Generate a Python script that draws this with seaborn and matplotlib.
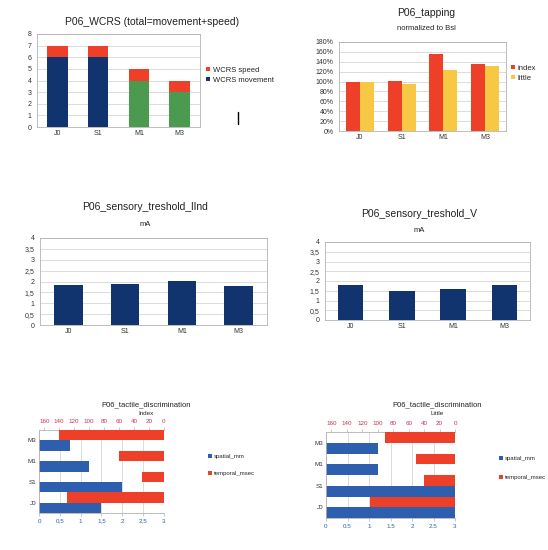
'''
Six small session charts for patient P06 (WCRS, tapping, sensory thresholds,
tactile discrimination), laid out like the original spreadsheet export.
'''
import matplotlib
matplotlib.use('Agg')
import matplotlib.pyplot as plt
from matplotlib.lines import Line2D
from matplotlib.ticker import FuncFormatter, MultipleLocator
import pandas as pd
import seaborn as sns

sessions = ['J0', 'S1', 'M1', 'M3']

wcrs_movement = [6, 6, 4, 3]
wcrs_speed = [1, 1, 1, 1]

tapping_index = [1.00, 1.02, 1.55, 1.36]
tapping_little = [1.00, 0.96, 1.23, 1.31]

threshold_lind = [1.85, 1.88, 2.04, 1.80]
threshold_v = [1.80, 1.50, 1.60, 1.80]

# tactile discrimination, same session order as above
tactile_order = ['M3', 'M1', 'S1', 'J0']
index_spatial_mm = [1.5, 2.0, 1.2, 0.75]
index_temporal_msec = [130, 30, 60, 140]
little_spatial_mm = [3.0, 3.0, 1.2, 1.2]
little_temporal_msec = [110, 40, 50, 90]

NAVY = '#12346e'
GREEN = '#4a9a4f'
RED = '#ee4028'
YELLOW = '#f7c844'
BLUE = '#2e5fae'
PINK = '#cc3355'
EDGE = '#b3b3b3'
GRID = '#d6d6d6'

W, H = 548, 550

sns.set_style('white')
plt.rcParams['font.family'] = ['Liberation Sans', 'DejaVu Sans']

fig = plt.figure(figsize=(W / 100, H / 100), dpi=100)


def px_axes(x0, y0, x1, y1):
    return fig.add_axes([x0 / W, 1 - y1 / H, (x1 - x0) / W, (y1 - y0) / H])


def ftext(x, y, s, size, color='#222222'):
    fig.text(x / W, 1 - y / H, s, ha='center', va='center', fontsize=size,
             color=color)


def comma(v, pos=None):
    return ('%g' % v).replace('.', ',')


def plain(v, pos=None):
    return '%g' % v


def style_box(ax, size=5):
    for s in ax.spines.values():
        s.set_color(EDGE)
        s.set_linewidth(0.6)
    ax.yaxis.grid(True, color=GRID, linewidth=0.6)
    ax.set_axisbelow(True)
    ax.tick_params(labelsize=size, length=2, width=0.5, color=EDGE, pad=2,
                   labelcolor='#333333')
    ax.tick_params(axis='x', which='major', length=0)
    ax.set_xticks([-0.5, 0.5, 1.5, 2.5, 3.5], minor=True)
    ax.tick_params(axis='x', which='minor', length=2, width=0.5, color=EDGE)
    ax.set_xlabel('')
    ax.set_ylabel('')


def square_legend(labels, colors, x, y, size, spacing):
    handles = [Line2D([], [], marker='s', linestyle='none', markersize=3,
                      markerfacecolor=c, markeredgewidth=0) for c in colors]
    fig.legend(handles, labels, loc='center left',
               bbox_to_anchor=(x / W, 1 - y / H), frameon=False,
               fontsize=size, handlelength=0.6, handletextpad=0.3,
               labelspacing=spacing, borderpad=0, borderaxespad=0)


# --- WCRS stacked bars ---
ax1 = px_axes(37, 34, 200, 127)
wcrs = pd.DataFrame({'session': sessions, 'movement': wcrs_movement,
                     'speed': wcrs_speed})
wcrs['total'] = wcrs['movement'] + wcrs['speed']
sns.barplot(data=wcrs, x='session', y='total', color=RED, saturation=1,
            width=0.5, linewidth=0, ax=ax1)
sns.barplot(data=wcrs, x='session', y='movement', hue='session',
            palette=[NAVY, NAVY, GREEN, GREEN], saturation=1, width=0.5,
            linewidth=0, legend=False, ax=ax1)
ax1.set_ylim(0, 8)
ax1.yaxis.set_major_locator(MultipleLocator(1))
style_box(ax1)
ftext(152, 22, 'P06_WCRS (total=movement+speed)', 7.5)
square_legend(['WCRS speed', 'WCRS movement'], [RED, NAVY], 206, 75, 5.5, 0.35)
fig.add_artist(Line2D([238 / W, 238 / W], [1 - 112 / H, 1 - 124 / H],
                      color='black', linewidth=1))

# --- tapping ---
ax2 = px_axes(339, 42, 506, 131)
tap = pd.DataFrame({'session': sessions * 2,
                    'finger': ['index'] * 4 + ['little'] * 4,
                    'value': tapping_index + tapping_little})
sns.barplot(data=tap, x='session', y='value', hue='finger',
            palette=[RED, YELLOW], saturation=1, width=0.67, linewidth=0,
            legend=False, ax=ax2)
ax2.set_ylim(0, 1.8)
ax2.yaxis.set_major_locator(MultipleLocator(0.2))
ax2.yaxis.set_major_formatter(FuncFormatter(lambda v, p: '%d%%' % round(v * 100)))
style_box(ax2)
ftext(426, 13, 'P06_tapping', 7.5)
ftext(426, 29, 'normalized to Bsl', 5.5)
square_legend(['index', 'little'], [RED, YELLOW], 511, 73, 5.5, 0.35)

# --- sensory thresholds ---
for rect, values, title, tx, ty in [
        ((40, 238, 267, 325), threshold_lind, 'P06_sensory_treshold_lInd',
         145, 207),
        ((325, 242, 530, 320), threshold_v, 'P06_sensory_treshold_V',
         419, 214)]:
    ax = px_axes(*rect)
    sns.barplot(x=sessions, y=values, color=NAVY, saturation=1, width=0.5,
                linewidth=0, ax=ax)
    ax.set_ylim(0, 4)
    ax.yaxis.set_major_locator(MultipleLocator(0.5))
    ax.yaxis.set_major_formatter(FuncFormatter(comma))
    style_box(ax)
    ftext(tx, ty, title, 7.5)
    ftext(tx, ty + 17, 'mA', 5.5)


# --- tactile discrimination ---
def tactile(rect, spatial, temporal, subtitle, tx, decimal_comma, leg):
    ax = px_axes(*rect)
    df_s = pd.DataFrame({'session': sessions, 'measure': 'spatial_mm',
                         'value': spatial})
    df_t = pd.DataFrame({'session': sessions, 'measure': 'temporal_msec',
                         'value': temporal})
    hue_order = ['temporal_msec', 'spatial_mm']
    sns.barplot(data=df_s, x='value', y='session', hue='measure',
                order=tactile_order, hue_order=hue_order,
                palette=[RED, BLUE], saturation=1, width=1.0, dodge=True,
                linewidth=0, legend=False, ax=ax)
    ax.set_xlim(0, 3)
    ax.xaxis.set_major_locator(MultipleLocator(0.5))
    ax.xaxis.set_major_formatter(FuncFormatter(comma if decimal_comma else plain))
    ax.xaxis.grid(True, color=GRID, linewidth=0.6)
    ax.set_axisbelow(True)
    ax.tick_params(labelsize=4.5, length=2, width=0.5, color=EDGE, pad=2)
    ax.tick_params(axis='x', labelcolor=BLUE)
    ax.tick_params(axis='y', length=0, labelcolor='#333333')
    for s in ax.spines.values():
        s.set_color(EDGE)
        s.set_linewidth(0.6)
    ax.spines['right'].set_visible(False)
    ax.set_xlabel('')
    ax.set_ylabel('')

    axt = ax.twiny()
    sns.barplot(data=df_t, x='value', y='session', hue='measure',
                order=tactile_order, hue_order=hue_order,
                palette=[RED, BLUE], saturation=1, width=1.0, dodge=True,
                linewidth=0, legend=False, ax=axt)
    axt.set_xlim(167, 0)
    axt.xaxis.set_major_locator(MultipleLocator(20))
    axt.tick_params(labelsize=4.5, length=2, width=0.5, color=EDGE, pad=2,
                    labelcolor=PINK)
    for s in axt.spines.values():
        s.set_visible(False)
    axt.set_xlabel('')
    axt.set_ylabel('')

    ftext(tx, 405, 'P06_tactile_discrimination', 5.5)
    ftext(tx, 413.5, subtitle, 4.5)
    square_legend(['spatial_mm', 'temporal_msec'], [BLUE, RED], leg[0],
                  leg[1], 4.3, leg[2])


tactile((39, 430, 164, 513), index_spatial_mm, index_temporal_msec, 'Index',
        146, True, (208, 465, 2.0))
tactile((326, 432, 455, 518), little_spatial_mm, little_temporal_msec,
        'Little', 437, False, (499, 468, 2.4))

fig.savefig('out.png', dpi=100)
